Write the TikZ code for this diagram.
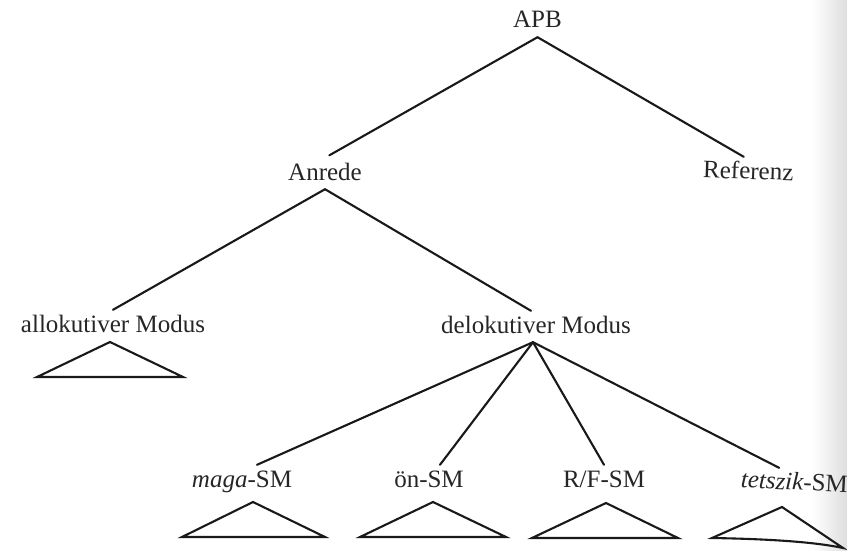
\documentclass[tikz,border=0pt]{standalone}
\usepackage{fontspec}
\setmainfont{Liberation Serif}
\begin{document}
\begin{tikzpicture}[x=1pt,y=-1pt,
  lbl/.style={font=\fontsize{25}{30}\selectfont, anchor=base, inner xsep=0pt,
              inner ysep=5pt, text height=17pt, text depth=4pt, text=black!85},
  edge/.style={line width=2.1pt, line cap=round, draw=black!90},
  tri/.style={line width=2.1pt, line join=miter, draw=black!90}]
  % page with faint shadow along the right margin
  \useasboundingbox (0,0) rectangle (847,551);
  \fill[white] (0,0) rectangle (847,551);
  \shade[left color=white, right color=black!13] (812,0) rectangle (847,551);

  % labels
  \node[lbl] (apb)   at (537.5,28)  {APB};
  \node[lbl] (anr)   at (325,180)   {Anrede};
  \node[lbl, rotate=-2] (ref) at (748,179) {Referenz};
  \node[lbl] (allo)  at (113,332)   {allokutiver Modus};
  \node[lbl] (delo)  at (536,333)   {delokutiver Modus};
  \node[lbl] (maga)  at (242,487)   {\itshape maga\upshape-SM};
  \node[lbl] (oen)   at (429,487)   {ön-SM};
  \node[lbl] (rf)    at (604,487)   {R/F-SM};
  \node[lbl, rotate=-3] (tet) at (794,490) {\itshape tetszik\upshape-SM};

  % branches
  \draw[edge, shorten >=5pt] (apb.south) -- (anr.north);
  \draw[edge] (apb.south) -- ([xshift=-5pt]ref.north);
  \draw[edge] (anr.south) -- (allo.north);
  \draw[edge] (anr.south) -- ([xshift=-5pt]delo.north);
  \draw[edge] ([xshift=-3pt]delo.south) -- ([xshift=15pt]maga.north);
  \draw[edge] ([xshift=-3pt]delo.south) -- ([xshift=11pt]oen.north);
  \draw[edge] ([xshift=-3pt]delo.south) -- (rf.north);
  \draw[edge] ([xshift=-3pt]delo.south) -- ([xshift=-16pt]tet.north);

  % collapsed subtrees
  \draw[tri] (110,342) -- (37,377) -- (183,377) -- cycle;
  \draw[tri] (253,502) -- (182,537) -- (325,537) -- cycle;
  \draw[tri] (433,502) -- (360,537) -- (506,537) -- cycle;
  \draw[tri] (606,503) -- (532,538) -- (678,538) -- cycle;
  \draw[tri] (782,507) -- (712,538) .. controls (770,539) and (815,542) .. (843,548) -- cycle;
\end{tikzpicture}
\end{document}
